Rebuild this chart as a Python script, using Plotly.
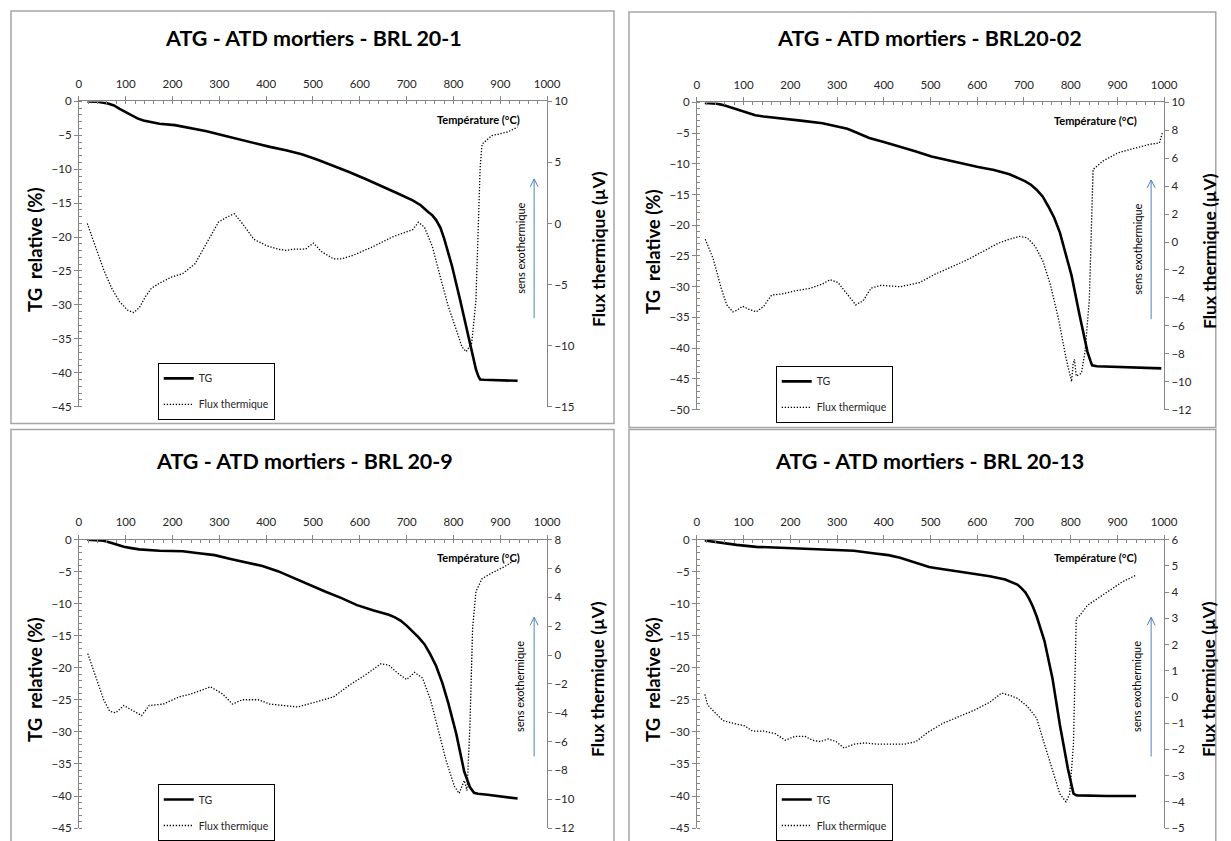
import plotly.graph_objects as go

# ---- data ----
# BRL 20-1
t_tg_1 = [18, 40, 62, 75, 87, 100, 112, 125, 138, 155, 172, 205, 239, 273, 307, 341, 374, 408, 442,
          476, 510, 544, 577, 611, 645, 679, 713, 730, 746, 755, 763, 772, 780, 797, 814, 831, 848,
          853, 857, 865, 882, 937]
tg_1 = [0, -0.05, -0.3, -0.6, -1.1, -1.6, -2.1, -2.5, -2.8, -3.1, -3.3, -3.5, -3.9, -4.4, -5.0,
        -5.6, -6.2, -6.7, -7.2, -7.8, -8.6, -9.5, -10.4, -11.4, -12.4, -13.5, -14.6, -15.3, -16.3,
        -16.8, -17.5, -18.6, -20.2, -24.3, -29.2, -34.6, -39.5, -40.5, -41.0, -41.05, -41.1, -41.2]
t_flux_1 = [18, 36, 53, 70, 87, 104, 117, 129, 142, 155, 172, 197, 222, 248, 273, 298, 315, 332, 349,
            374, 400, 425, 442, 459, 484, 501, 518, 544, 561, 586, 628, 670, 713, 725, 738, 755, 772,
            789, 806, 818, 827, 835, 839, 848, 857, 861, 882, 916, 937]
flux_1 = [0, -1.9, -3.8, -5.3, -6.4, -7.1, -7.3, -6.9, -6.0, -5.3, -4.9, -4.4, -4.1, -3.3, -1.6, 0.1,
          0.5, 0.8, 0, -1.3, -1.8, -2.1, -2.2, -2.1, -2.1, -1.6, -2.3, -2.9, -2.9, -2.6, -1.9, -1.1,
          -0.5, 0.1, -0.3, -1.9, -4.4, -6.8, -8.7, -10.1, -10.5, -10.1, -9.8, -6.3, 4.6, 6.5, 7.2,
          7.5, 7.9]

# BRL20-02
t_tg_2 = [17, 43, 60, 72, 85, 98, 110, 125, 143, 185, 227, 269, 310, 322, 335, 352, 369, 402, 435,
          469, 502, 535, 569, 602, 636, 669, 702, 715, 727, 740, 752, 765, 777, 802, 819, 836, 842,
          846, 856, 886, 994]
tg_2 = [-0.1, -0.2, -0.5, -0.8, -1.1, -1.5, -1.8, -2.1, -2.3, -2.6, -3.0, -3.4, -4.0, -4.3, -4.7,
        -5.3, -5.8, -6.5, -7.2, -8.0, -8.8, -9.4, -10.0, -10.5, -11.0, -11.7, -12.8, -13.4, -14.2,
        -15.3, -16.9, -18.8, -21.2, -28.2, -34.6, -40.6, -42.0, -42.8, -42.95, -43.0, -43.3]
t_flux_2 = [18, 35, 52, 64, 77, 85, 98, 110, 127, 143, 160, 185, 210, 244, 269, 285, 302, 319, 340,
            356, 373, 394, 435, 477, 510, 544, 577, 611, 644, 669, 690, 707, 724, 741, 757, 774, 790,
            802, 805, 808, 812, 823, 831, 840, 844, 848, 869, 902, 935, 969, 990, 996]
flux_2 = [0.2, -1.2, -3.3, -4.5, -5.0, -4.9, -4.6, -4.8, -5.0, -4.6, -3.8, -3.7, -3.5, -3.3, -3.0,
          -2.7, -2.9, -3.6, -4.5, -4.2, -3.3, -3.1, -3.2, -2.9, -2.3, -1.8, -1.3, -0.7, -0.1, 0.2,
          0.4, 0.3, -0.3, -1.4, -3.1, -5.5, -8.3, -10.0, -8.8, -8.4, -9.6, -9.4, -7.8, -4.1, 1.6,
          5.2, 5.8, 6.4, 6.7, 7.0, 7.1, 7.8]

# BRL 20-9
t_tg_3 = [18, 53, 70, 83, 96, 112, 129, 172, 222, 256, 290, 324, 358, 392, 425, 459, 493, 527, 561,
          594, 628, 662, 675, 687, 700, 713, 725, 738, 750, 763, 776, 789, 806, 823, 835, 844, 852,
          873, 937]
tg_3 = [0, -0.15, -0.5, -0.8, -1.1, -1.3, -1.5, -1.7, -1.8, -2.1, -2.4, -3.0, -3.5, -4.1, -4.9, -6.0,
        -7.0, -8.1, -9.1, -10.2, -11.0, -11.7, -12.1, -12.6, -13.4, -14.3, -15.2, -16.3, -17.8,
        -19.7, -22.3, -25.5, -30.3, -36.2, -38.6, -39.5, -39.65, -39.8, -40.4]
t_flux_3 = [19, 36, 53, 66, 79, 96, 112, 134, 150, 180, 214, 239, 265, 281, 307, 328, 349, 383, 408,
            442, 467, 501, 544, 577, 611, 645, 662, 679, 700, 717, 734, 751, 768, 785, 802, 812, 823,
            829, 835, 841, 848, 861, 882, 907, 937]
flux_3 = [0.1, -1.5, -3.1, -3.9, -4.0, -3.5, -3.8, -4.2, -3.5, -3.4, -2.9, -2.7, -2.4, -2.2, -2.7,
          -3.4, -3.1, -3.1, -3.4, -3.5, -3.6, -3.3, -2.9, -2.1, -1.4, -0.6, -0.7, -1.2, -1.7, -1.2,
          -1.6, -3.1, -5.3, -7.4, -9.1, -9.6, -8.7, -9.4, -5.0, 1.9, 4.4, 5.3, 5.7, 6.1, 6.7]

# BRL 20-13
t_tg_4 = [17, 52, 85, 127, 168, 210, 252, 294, 336, 377, 410, 435, 448, 460, 472, 485, 497, 510,
          544, 585, 627, 660, 677, 686, 694, 703, 711, 719, 727, 744, 761, 777, 794, 801, 806, 811,
          815, 877, 940]
tg_4 = [-0.1, -0.5, -0.8, -1.1, -1.2, -1.3, -1.4, -1.5, -1.7, -2.1, -2.4, -2.8, -3.1, -3.4, -3.7,
        -4.0, -4.25, -4.4, -4.8, -5.2, -5.7, -6.2, -6.7, -7.0, -7.5, -8.2, -9.2, -10.4, -11.9,
        -15.8, -21.6, -28.9, -35.7, -38.2, -39.6, -39.85, -39.9, -40.0, -40.0]
t_flux_4 = [17, 23, 39, 56, 77, 102, 119, 143, 168, 189, 210, 231, 248, 265, 281, 298, 315, 336, 360,
            385, 419, 444, 469, 494, 527, 560, 594, 627, 652, 669, 686, 707, 727, 744, 761, 777, 790,
            798, 806, 812, 819, 836, 861, 886, 911, 940]
flux_4 = [0.1, -0.3, -0.6, -0.9, -1.0, -1.1, -1.3, -1.3, -1.4, -1.65, -1.5, -1.5, -1.65, -1.7, -1.6,
          -1.7, -1.95, -1.8, -1.75, -1.8, -1.8, -1.8, -1.7, -1.35, -1.0, -0.75, -0.5, -0.2, 0.15,
          0.07, -0.05, -0.35, -0.8, -1.8, -2.8, -3.7, -4.0, -3.7, -1.8, 3.0, 3.1, 3.5, 3.8, 4.1,
          4.4, 4.65]

titles = ["ATG - ATD mortiers - BRL 20-1", "ATG - ATD mortiers - BRL20-02",
          "ATG - ATD mortiers - BRL 20-9", "ATG - ATD mortiers - BRL 20-13"]
tg_ranges = [[-45, 0], [-50, 0], [-45, 0], [-45, 0]]
flux_ranges = [[-15, 10], [-12, 10], [-12, 8], [-5, 6]]
flux_dticks = [5, 2, 2, 1]

W, H = 1231, 841
# the snapshot shows the page slightly shrunk and shifted; map target pixels back to paper
SX, SY, DX, DY = 0.9878, 0.9845, 2, 6


def px(x):
    return (x - DX) / SX / W


def py(y):
    return 1 - (y - DY) / SY / H


# target pixels: plot area (left, right, top, bottom) ; frame box ; title centre
areas = [(78, 547, 101, 408), (697, 1165, 102, 411), (78, 547, 542, 832), (697, 1165, 542, 832)]
frames = [(10, 614, 10, 425), (629, 1228, 11, 429), (10, 614, 431, 860), (629, 1228, 431, 860)]
title_pos = [(313, 37), (930, 37), (304, 463), (930, 463)]
right_title_gap = [51, 45, 51, 45]

series = [(t_tg_1, tg_1, t_flux_1, flux_1), (t_tg_2, tg_2, t_flux_2, flux_2),
          (t_tg_3, tg_3, t_flux_3, flux_3), (t_tg_4, tg_4, t_flux_4, flux_4)]

FONT = "Lato"
AX = "#868686"
TXT = "#262626"

fig = go.Figure()
layout = dict(width=W, height=H, margin=dict(l=0, r=0, t=0, b=0),
              paper_bgcolor="white", plot_bgcolor="rgba(0,0,0,0)",
              font=dict(family=FONT, color=TXT, size=11.5),
              shapes=[], annotations=[])


def note(text, x, y, size, angle=0, anchor="center", bold=True):
    t = "<b>" + text + "</b>" if bold else text
    return dict(text=t, x=px(x), y=py(y), xref="paper", yref="paper", showarrow=False,
                xanchor=anchor, yanchor="middle", textangle=angle,
                font=dict(size=size, color="black", family=FONT))


for k in range(4):
    x0, x1, yt, yb = areas[k]
    xid = "x" if k == 0 else f"x{k + 1}"
    yl = "y" if k == 0 else f"y{2 * k + 1}"
    yr = f"y{2 * k + 2}"
    leg = "legend" if k == 0 else f"legend{k + 1}"
    t_tg, tg, t_fl, fl = series[k]

    fig.add_trace(go.Scatter(x=t_tg, y=tg, mode="lines", name="TG", legendgroup=f"tg{k}",
                             line=dict(color="black", width=2.6),
                             xaxis=xid, yaxis=yl, legend=leg))
    fig.add_trace(go.Scatter(x=t_fl, y=fl, mode="lines", name="Flux thermique",
                             legendgroup=f"fl{k}",
                             line=dict(color="black", width=1.3, dash="1.3px,1.7px"),
                             xaxis=xid, yaxis=yr, legend=leg))

    layout["xaxis" if k == 0 else f"xaxis{k + 1}"] = dict(
        domain=[px(x0), px(x1)], anchor=yl, side="top", range=[0, 1000], dtick=100,
        ticks="outside", ticklen=4, tickcolor=AX, showline=True, linecolor=AX, linewidth=1,
        minor=dict(ticks="inside", dtick=20, ticklen=3, tickcolor=AX),
        showgrid=False, zeroline=False, tickfont=dict(size=11.5), ticklabelstandoff=4)
    layout["yaxis" if k == 0 else f"yaxis{2 * k + 1}"] = dict(
        domain=[py(yb), py(yt)], anchor=xid, side="left", range=tg_ranges[k], dtick=5,
        ticks="outside", ticklen=4, tickcolor=AX, showline=True, linecolor=AX, linewidth=1,
        minor=dict(ticks="inside", dtick=1, ticklen=3, tickcolor=AX),
        showgrid=False, zeroline=False, tickfont=dict(size=11.5))
    layout[f"yaxis{2 * k + 2}"] = dict(
        domain=[py(yb), py(yt)], anchor=xid, overlaying=yl, side="right",
        range=flux_ranges[k], dtick=flux_dticks[k],
        ticks="outside", ticklen=4, tickcolor=AX, showline=True, linecolor=AX, linewidth=1,
        showgrid=False, zeroline=False, tickfont=dict(size=11.5))

    # legend box
    layout[leg] = dict(x=px(x0 + 79), y=py(yb - 44), xanchor="left", yanchor="top",
                       bgcolor="white", bordercolor="black", borderwidth=1,
                       font=dict(size=10.5, family=FONT), tracegroupgap=7, itemwidth=30)

    # frame around each chart
    fx0, fx1, fy0, fy1 = frames[k]
    layout["shapes"].append(dict(type="rect", xref="paper", yref="paper",
                                 x0=px(fx0), x1=min(px(fx1), 0.999), y0=py(fy1), y1=py(fy0),
                                 line=dict(color="#a6a6a6", width=1.5), layer="below"))

    tx, ty = title_pos[k]
    ymid = (yt + yb) / 2 - 5
    layout["annotations"] += [
        note(titles[k], tx, ty, 21.5),
        note("TG  relative (%)", x0 - 44, ymid, 18.5, angle=-90),
        note("Flux thermique (µV)", x1 + right_title_gap[k], ymid, 17.5, angle=-90),
        note("Température (°C)", x1 - 25, yt + 18, 11, anchor="right"),
        note("sens exothermique", x1 - 27, yt + 148, 11, angle=-90, bold=False),
    ]

    # exothermic direction arrow
    ax = x1 - 13
    a_top, a_bot = yt + 78, yt + 218
    blue = "#4f81bd"
    layout["shapes"].append(dict(type="line", xref="paper", yref="paper",
                                 x0=px(ax), x1=px(ax), y0=py(a_bot), y1=py(a_top),
                                 line=dict(color=blue, width=1)))
    for dx in (-4, 4):
        layout["shapes"].append(dict(type="line", xref="paper", yref="paper",
                                     x0=px(ax + dx), x1=px(ax), y0=py(a_top + 8), y1=py(a_top),
                                     line=dict(color=blue, width=1)))

fig.update_layout(**layout)
# drop the default page margin so the 1231x841 figure fills the window exactly
fig.write_html("out.html", config={"displayModeBar": False},
               post_script="document.body.style.margin='0';document.body.style.overflow='hidden';")
